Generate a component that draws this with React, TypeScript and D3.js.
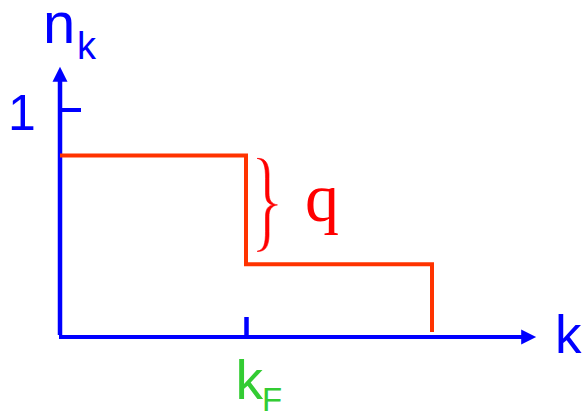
import React from "react";
import * as d3 from "d3";

// Step function n_k versus k
const stepK = [0, 1, 1, 2, 2];        // k positions (kF = 1)
const stepN = [0.8, 0.8, 0.32, 0.32, 0]; // occupation levels
const yTicks = [1];
const xTicks = [1];
const axisMaxK = 2.56;
const axisMaxN = 1.19;

export default function App() {
  const W = 582, H = 414;
  const x = d3.scaleLinear().domain([0, 1]).range([60, 246]);
  const y = d3.scaleLinear().domain([0, 1]).range([337, 110]);

  const pts: [number, number][] = stepK.map((k, i) => [x(k), stepN[i] === 0 ? 332 : y(stepN[i])]);
  const line = d3.line()(pts) || "";

  const blue = "#0000ff";
  const xEnd = x(axisMaxK);
  const yEnd = y(axisMaxN);
  const sans = "'Liberation Sans', Arial, sans-serif";
  const serif = "'Liberation Serif', 'Times New Roman', serif";

  // brace geometry derived from the two step levels
  const bTop = y(stepN[0]) + 3;
  const bBot = y(stepN[2]) - 13;
  const bMid = (bTop + bBot) / 2;
  const bx = x(1) + 11;
  const brace = [
    `M${bx},${bTop}`,
    `C${bx + 10},${bTop - 1} ${bx + 12.5},${bTop + 8} ${bx + 12},${bTop + 20}`,
    `L${bx + 12},${bMid - 12}`,
    `C${bx + 12},${bMid - 5} ${bx + 14},${bMid - 1} ${bx + 20.5},${bMid}`,
    `C${bx + 14},${bMid + 1} ${bx + 12},${bMid + 5} ${bx + 12},${bMid + 12}`,
    `L${bx + 12},${bBot - 20}`,
    `C${bx + 12.5},${bBot - 8} ${bx + 10},${bBot + 1} ${bx},${bBot}`,
    `C${bx + 7},${bBot - 1} ${bx + 8.5},${bBot - 8} ${bx + 8.5},${bBot - 20}`,
    `L${bx + 8.5},${bMid + 12}`,
    `C${bx + 8.5},${bMid + 4} ${bx + 11},${bMid + 1} ${bx + 16},${bMid}`,
    `C${bx + 11},${bMid - 1} ${bx + 8.5},${bMid - 4} ${bx + 8.5},${bMid - 12}`,
    `L${bx + 8.5},${bTop + 20}`,
    `C${bx + 8.5},${bTop + 8} ${bx + 7},${bTop + 1} ${bx},${bTop}Z`,
  ].join(" ");

  return (
    <svg width={W} height={H} style={{ position: "absolute", left: 0, top: 0 }}>
      <rect width={W} height={H} fill="#ffffff" />
      {/* y axis */}
      <line x1={x(0)} y1={335} x2={x(0)} y2={yEnd + 12} stroke={blue} strokeWidth={4.5} />
      <polygon points={`${x(0)},${yEnd} ${x(0) - 7.5},${yEnd + 15} ${x(0) + 7.5},${yEnd + 15}`} fill={blue} />
      {/* x axis */}
      <line x1={x(0) - 1} y1={y(0)} x2={xEnd - 12} y2={y(0)} stroke={blue} strokeWidth={4} />
      <polygon points={`${xEnd},${y(0)} ${xEnd - 15},${y(0) - 7.5} ${xEnd - 15},${y(0) + 7.5}`} fill={blue} />
      {/* ticks */}
      {yTicks.map((t) => (
        <line key={"yt" + t} x1={x(0)} y1={y(t)} x2={x(0) + 21} y2={y(t)} stroke={blue} strokeWidth={4} />
      ))}
      {xTicks.map((t) => (
        <line key={"xt" + t} x1={x(t) + 0.5} y1={y(0)} x2={x(t) + 0.5} y2={y(0) - 20} stroke={blue} strokeWidth={4.5} />
      ))}
      {/* step line */}
      <path d={line} fill="none" stroke="#ff3300" strokeWidth={4} strokeLinejoin="miter" />
      {/* brace and q */}
      <path d={brace} fill="#ff0000" stroke="#ff0000" strokeWidth={0.6} />
      <text x={305} y={221} fontFamily={serif} fontSize={68} fill="#ff0000">q</text>
      {/* labels */}
      <text x={43} y={43} fontFamily={sans} fontSize={58} fill={blue}>n</text>
      <text x={77} y={59} fontFamily={sans} fontSize={38} fill={blue}>k</text>
      <text x={8} y={130} fontFamily={sans} fontSize={50} fill={blue}>1</text>
      <text x={555} y={353} fontFamily={sans} fontSize={53} fill={blue}>k</text>
      <text x={235.5} y={399} fontFamily={sans} fontSize={55} fill="#33cc33">k</text>
      <text x={262} y={411} fontFamily={sans} fontSize={33} fill="#33cc33">F</text>
    </svg>
  );
}
